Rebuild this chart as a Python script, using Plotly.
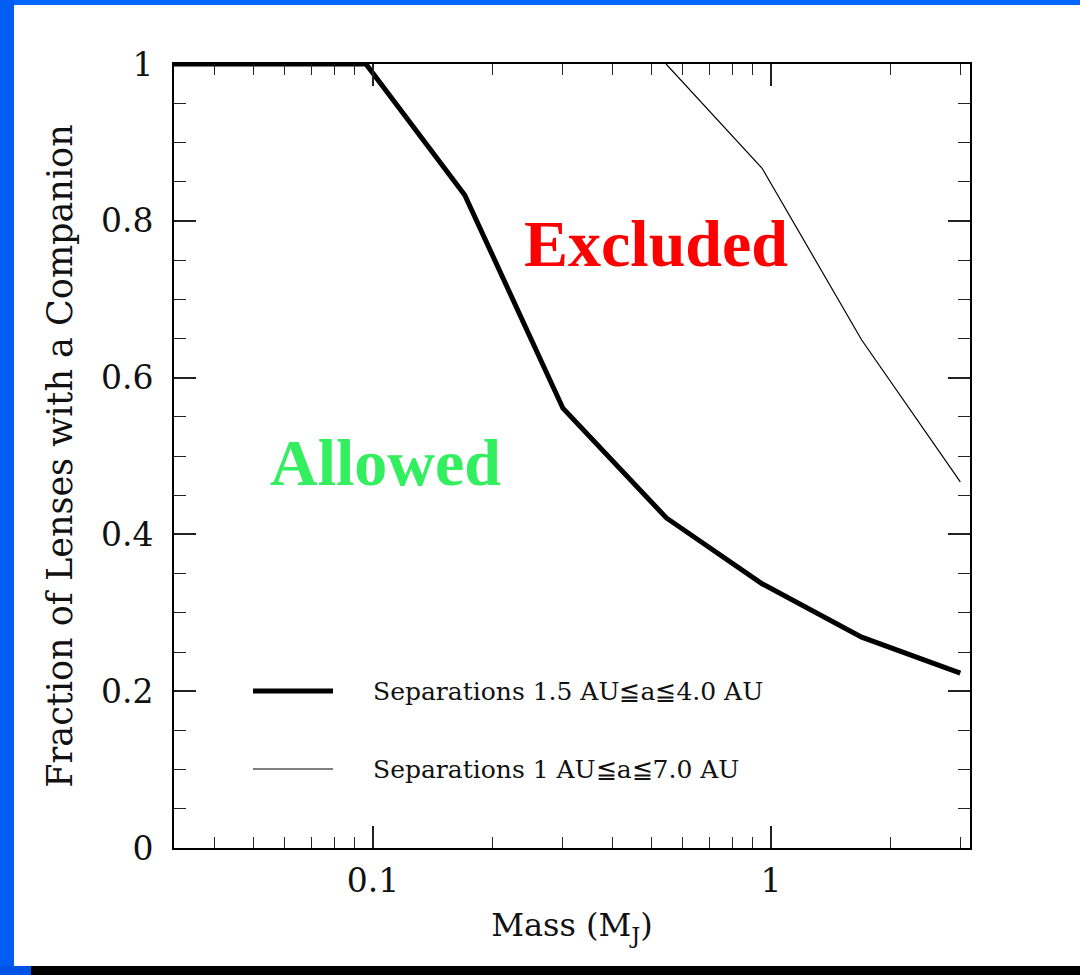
import plotly.graph_objects as go

# ---- data ----
mass_narrow = [0.0316, 0.096, 0.170, 0.300, 0.546, 0.950, 1.69, 2.99]
frac_narrow = [1.0, 1.0, 0.833, 0.561, 0.421, 0.337, 0.269, 0.223]

mass_wide = [0.545, 0.950, 1.69, 2.99]
frac_wide = [1.0, 0.867, 0.648, 0.467]

x_major_vals = [0.1, 1]
x_major_text = ["0.1", "1"]
x_minor_vals = [0.04, 0.05, 0.06, 0.07, 0.08, 0.09,
                0.2, 0.3, 0.4, 0.5, 0.6, 0.7, 0.8, 0.9, 2, 3]
y_major_vals = [0, 0.2, 0.4, 0.6, 0.8, 1]
y_major_text = ["0", "0.2", "0.4", "0.6", "0.8", "1"]

legend_labels = ["Separations 1.5 AU≦a≦4.0 AU", "Separations 1 AU≦a≦7.0 AU"]

# ---- figure geometry ----
W, H = 1080, 975
L, R, T, B = 174, 970, 64, 848
pw, ph = R - L, B - T


def px(x):
    return (x - L) / pw


def py(y):
    return (B - y) / ph


FONT = "DejaVu Serif"

fig = go.Figure()
fig.add_trace(go.Scatter(x=mass_narrow, y=frac_narrow, mode="lines",
                         line=dict(color="black", width=5),
                         name=legend_labels[0], showlegend=False))
fig.add_trace(go.Scatter(x=mass_wide, y=frac_wide, mode="lines",
                         line=dict(color="black", width=1.2),
                         name=legend_labels[1], showlegend=False))

shapes = [
    # slide background decorations
    dict(type="rect", xref="paper", yref="paper", x0=px(0), x1=px(W), y0=py(0), y1=py(5),
         fillcolor="#0066FF", line_width=0, layer="below"),
    dict(type="rect", xref="paper", yref="paper", x0=px(0), x1=px(14), y0=py(0), y1=py(H),
         fillcolor="#005CF2", line_width=0, layer="below"),
    dict(type="rect", xref="paper", yref="paper", x0=px(0), x1=px(31), y0=py(966), y1=py(H),
         fillcolor="#0052E6", line_width=0, layer="below"),
    dict(type="rect", xref="paper", yref="paper", x0=px(31), x1=px(W), y0=py(966), y1=py(H),
         fillcolor="black", line_width=0, layer="below"),
    # legend keys
    dict(type="line", xref="paper", yref="paper", x0=px(253), x1=px(333), y0=py(691), y1=py(691),
         line=dict(color="black", width=5)),
    dict(type="line", xref="paper", yref="paper", x0=px(253), x1=px(333), y0=py(769), y1=py(769),
         line=dict(color="black", width=1.2)),
]

annotations = [
    dict(text=legend_labels[0], xref="paper", yref="paper", x=px(371), y=py(691),
         xanchor="left", yanchor="middle", showarrow=False,
         font=dict(family=FONT, size=25, color="#111")),
    dict(text=legend_labels[1], xref="paper", yref="paper", x=px(371), y=py(769),
         xanchor="left", yanchor="middle", showarrow=False,
         font=dict(family=FONT, size=25, color="#111")),
    dict(text="<b>Excluded</b>", xref="paper", yref="paper", x=px(656), y=py(243),
         xanchor="center", yanchor="middle", showarrow=False,
         font=dict(family="Liberation Serif", size=66, color="#FF0000")),
    dict(text="<b>Allowed</b>", xref="paper", yref="paper", x=px(385), y=py(462),
         xanchor="center", yanchor="middle", showarrow=False,
         font=dict(family="Liberation Serif", size=66, color="#33EE5E")),
]

axis_common = dict(
    showline=True, linecolor="black", linewidth=1.6, mirror="ticks",
    ticks="inside", ticklen=22, tickwidth=1.6, tickcolor="#222",
    showgrid=False, zeroline=False,
    tickfont=dict(family=FONT, size=33, color="#111"),
)

fig.update_layout(
    width=W, height=H,
    margin=dict(l=L, r=W - R, t=T, b=H - B, autoexpand=False),
    paper_bgcolor="white", plot_bgcolor="white",
    showlegend=False,
    shapes=shapes, annotations=annotations,
    xaxis=dict(
        type="log", range=[-1.5, 0.5],
        tickmode="array", tickvals=x_major_vals, ticktext=x_major_text,
        minor=dict(tickmode="array", tickvals=x_minor_vals, ticks="inside",
                   ticklen=11, tickwidth=1.4, tickcolor="#222"),
        title=dict(text="Mass (M<sub>J</sub>)", font=dict(family=FONT, size=32, color="#111"),
                   standoff=14),
        ticklabelstandoff=3,
        **axis_common,
    ),
    yaxis=dict(
        range=[0, 1],
        tickmode="array", tickvals=y_major_vals, ticktext=y_major_text,
        minor=dict(dtick=0.05, tick0=0, ticks="inside",
                   ticklen=12, tickwidth=1.4, tickcolor="#222"),
        title=dict(text="Fraction of Lenses with a Companion",
                   font=dict(family=FONT, size=35, color="#111"), standoff=18),
        ticklabelstandoff=12,
        **axis_common,
    ),
)

fig.write_html("out.html")
